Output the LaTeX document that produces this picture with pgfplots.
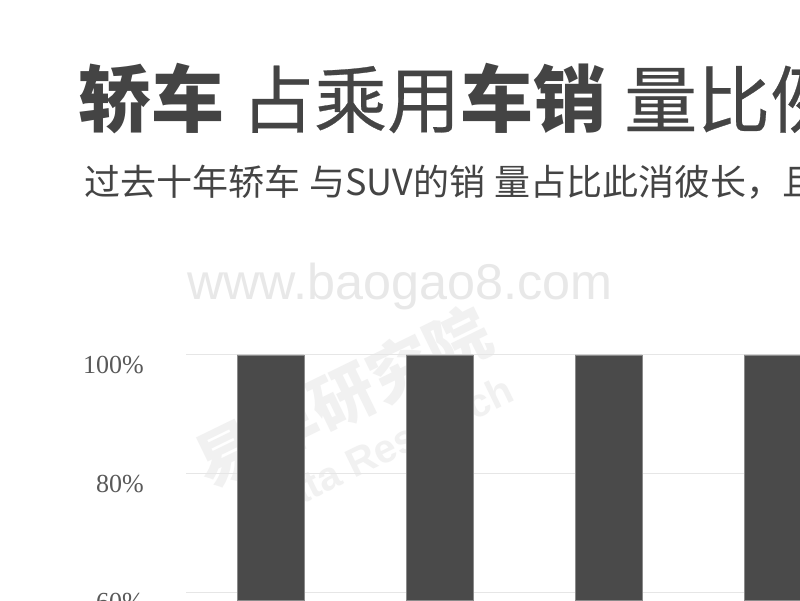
\documentclass[border=0pt]{standalone}
\usepackage{fontspec}
\usepackage{pgfplots}
\pgfplotsset{compat=1.18}
\setmainfont{Liberation Serif}
\newfontfamily\cjk{Noto Sans CJK SC}
\newfontfamily\cjkmed[FakeBold=0.35]{Noto Sans CJK SC}
\newfontfamily\wmfont{Liberation Sans}
\definecolor{titlegray}{HTML}{444444}
\definecolor{bardark}{HTML}{4A4A4A}
\definecolor{baredge}{HTML}{8A8A8A}
\definecolor{gridgray}{HTML}{E6E6E6}
\definecolor{labelgray}{HTML}{595959}
\definecolor{wmgray}{HTML}{E8E8E8}
\definecolor{wmlight}{HTML}{F1F1F1}
\begin{document}
\begin{tikzpicture}[x=1pt,y=1pt]
\useasboundingbox (0,0) rectangle (800,600);
\clip (0,0) rectangle (800,600);
\fill[white] (0,0) rectangle (800,600);
% title and subtitle
\node[anchor=base west, inner sep=0pt, text=titlegray, font=\fontsize{73}{73}\selectfont] at (78,473)
  {{\cjk\bfseries 轿车}\hspace{17pt}{\cjkmed 占乘用}{\cjk\bfseries 车销}\hspace{18pt}{\cjkmed 量比例}};
\node[anchor=base west, inner sep=0pt, text=titlegray, font=\cjk\fontsize{36}{36}\selectfont] at (84,404)
  {过去十年轿车\hspace{9pt}与SUV的销\hspace{9pt}量占比此消彼长，且};
% watermarks
\node[anchor=base west, inner sep=0pt, text=wmgray, font=\wmfont\fontsize{50.3}{50.3}\selectfont] at (187,300) {www.baogao8.com};
\node[rotate=26, inner sep=0pt, text=wmlight, font=\cjk\bfseries\fontsize{64}{64}\selectfont] at (343,203) {易车研究院};
\node[rotate=26, inner sep=0pt, text=wmlight, font=\wmfont\bfseries\fontsize{40}{40}\selectfont] at (385,152) {Data Research};
\begin{axis}[
  at={(186pt,0pt)}, anchor=south west,
  scale only axis, width=676pt, height=248pt,
  xmin=-0.5, xmax=3.5, ymin=58.74, ymax=100.5,
  xtick=\empty,
  ytick={60,80,100}, yticklabels={60\%,80\%,100\%},
  yticklabel style={font=\fontsize{26}{26}\selectfont, text=labelgray, anchor=east, inner sep=0pt, xshift=-42pt, yshift=-10pt},
  axis line style={draw=none}, major tick style={draw=none},
  ymajorgrids, grid style={draw=gridgray, line width=1pt},
  ybar, bar width=67pt,
  clip=true,
]
\addplot[fill=bardark, draw=baredge, line width=0.6pt] coordinates {(0,100) (1,100) (2,100) (3,100)};
\end{axis}
\end{tikzpicture}
\end{document}
